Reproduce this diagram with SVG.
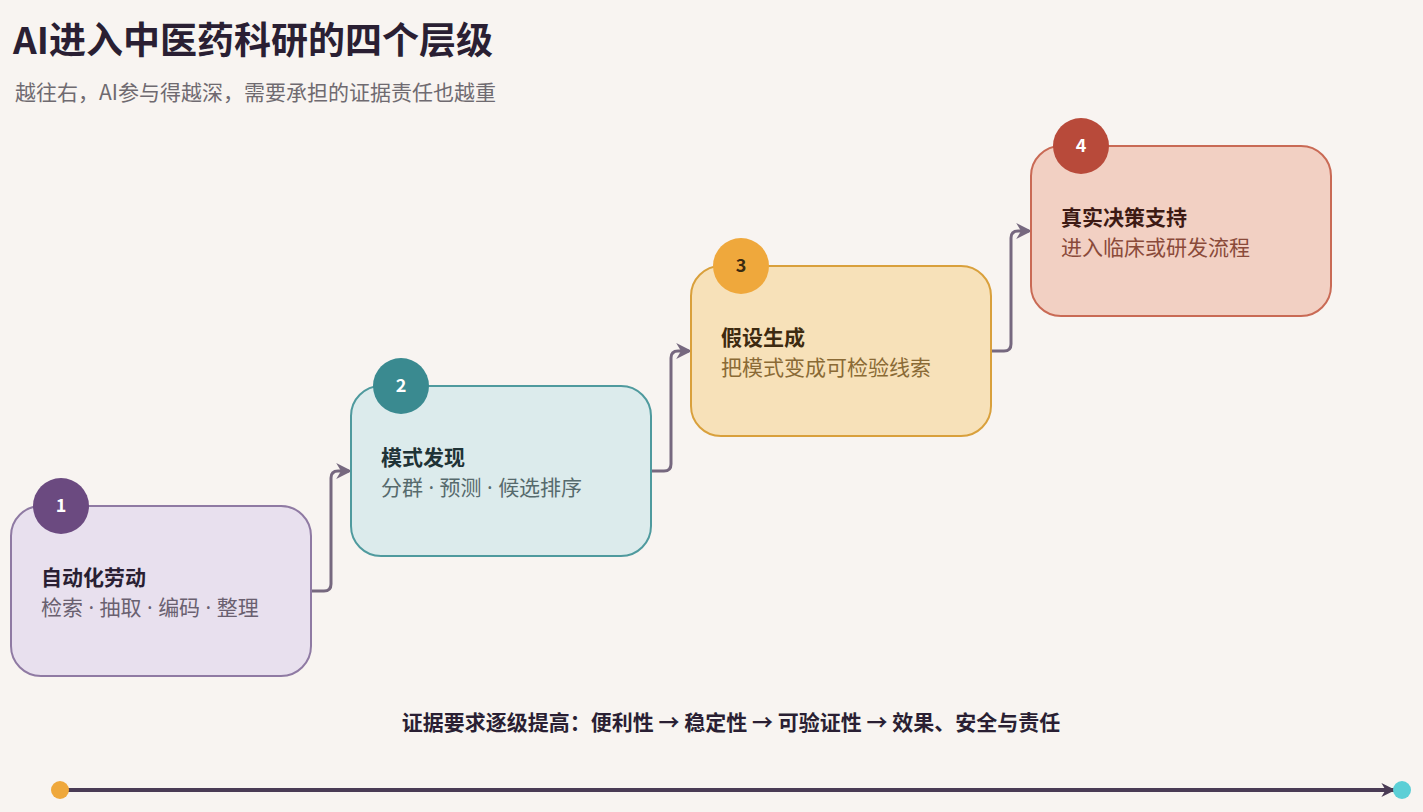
<svg xmlns="http://www.w3.org/2000/svg" width="1423" height="812" viewBox="0 0 1423 812">
<style>
text{font-family:"Noto Sans CJK SC","Noto Sans",sans-serif}
.t{font-size:21px;font-weight:bold}
.s{font-size:21px}
.d{font-family:"Noto Sans",sans-serif}
.n{font-size:18px;font-weight:bold;fill:#fff;text-anchor:middle}
.c{fill:none;stroke:#76687f;stroke-width:3;stroke-linejoin:round}
</style>
<defs>
<marker id="a" viewBox="0 0 10 10" refX="8" refY="5" markerWidth="16" markerHeight="16" orient="auto" markerUnits="userSpaceOnUse"><path d="M0,0L10,5L0,10L3,5z" fill="#76687f"/></marker>
<marker id="b" viewBox="0 0 10 10" refX="9" refY="5" markerWidth="14" markerHeight="14" orient="auto" markerUnits="userSpaceOnUse"><path d="M0,0L10,5L0,10L3,5z" fill="#4a3b55"/></marker>
</defs>
<rect width="1423" height="812" fill="#f8f4f1"/>
<text x="13" y="54" font-size="37" font-weight="bold" fill="#2a1f33">AI进入中医药科研的四个层级</text>
<text x="15" y="100" font-size="21" fill="#6f6a70">越往右，AI参与得越深，需要承担的证据责任也越重</text>
<g id="connectors">
<path class="c" d="M311,591H324Q331,591 331,584V478Q331,471 338,471H349" marker-end="url(#a)"/>
<path class="c" d="M651,471H664Q671,471 671,464V358Q671,351 678,351H689" marker-end="url(#a)"/>
<path class="c" d="M991,351H1004Q1011,351 1011,344V238Q1011,231 1018,231H1029" marker-end="url(#a)"/>
</g>
<g id="n1">
<rect x="11" y="506" width="300" height="170" rx="30" fill="#e8e0ee" stroke="#8f7aa3" stroke-width="2"/>
<circle cx="61" cy="506" r="28" fill="#6b4a80"/><text class="n" x="61" y="512">1</text>
<text class="t" x="41" y="585" fill="#2a1f33">自动化劳动</text>
<text class="s" x="41" y="615" fill="#6a6070">检索<tspan class="d"> · </tspan>抽取<tspan class="d"> · </tspan>编码<tspan class="d"> · </tspan>整理</text>
</g>
<g id="n2">
<rect x="351" y="386" width="300" height="170" rx="30" fill="#dcebec" stroke="#4f9a9e" stroke-width="2"/>
<circle cx="401" cy="386" r="28" fill="#3a8a90"/><text class="n" x="401" y="392">2</text>
<text class="t" x="381" y="465" fill="#1f3336">模式发现</text>
<text class="s" x="381" y="495" fill="#566a6c">分群<tspan class="d"> · </tspan>预测<tspan class="d"> · </tspan>候选排序</text>
</g>
<g id="n3">
<rect x="691" y="266" width="300" height="170" rx="30" fill="#f7e1b9" stroke="#d9a03c" stroke-width="2"/>
<circle cx="741" cy="266" r="28" fill="#efa83c"/><text class="n" x="741" y="272" style="fill:#3a2a10">3</text>
<text class="t" x="721" y="345" fill="#3d2a10">假设生成</text>
<text class="s" x="721" y="375" fill="#8a6a35">把模式变成可检验线索</text>
</g>
<g id="n4">
<rect x="1031" y="146" width="300" height="170" rx="30" fill="#f2d0c3" stroke="#c96a55" stroke-width="2"/>
<circle cx="1081" cy="146" r="28" fill="#b84a3a"/><text class="n" x="1081" y="152">4</text>
<text class="t" x="1061" y="225" fill="#3d1a14">真实决策支持</text>
<text class="s" x="1061" y="255" fill="#8a4a3a">进入临床或研发流程</text>
</g>
<text x="731" y="730" font-size="21" font-weight="bold" fill="#2a1f33" text-anchor="middle">证据要求逐级提高：便利性 → 稳定性 → 可验证性 → 效果、安全与责任</text>
<line x1="60" y1="790" x2="1394" y2="790" stroke="#4a3b55" stroke-width="4" marker-end="url(#b)"/>
<circle cx="60" cy="790" r="9" fill="#efa83c"/>
<circle cx="1402" cy="790" r="9" fill="#5ccfd6"/>
</svg>
